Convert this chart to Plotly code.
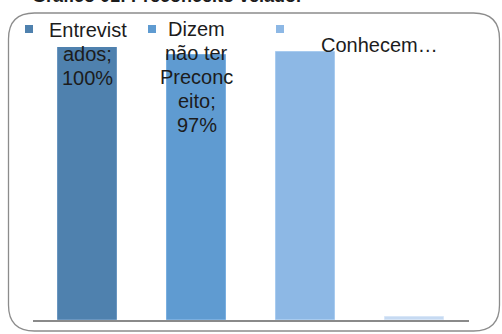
import plotly.graph_objects as go

# Series data
positions = [0, 1, 2, 3]
values = [100, 97, 98, 1]
bar_colors = ["#4f81ae", "#5f9bd1", "#8db8e5", "#c6daf2"]
edge_colors = ["#6a96c0", "#7aafe0", "#a8cbef", "#d8e6f7"]

# Data label lines (series name wrapped, then value)
label_lines = [
    ["Entrevist", "ados;"],
    ["Dizem", "não ter", "Preconc", "eito;"],
]
legend_names = ["", "", "Conhecem…"]
title_text = "Gráfico 01: Preconceito velado."

W, H = 502, 334
PLOT_L, PLOT_R, PLOT_T, PLOT_B = 33, 469, 47, 320
FONT = "Liberation Sans, Arial, sans-serif"
TEXT_COLOR = "#1c1c1c"
LINE_STEP = 24


def px_x(px):
    return (px - PLOT_L) / (PLOT_R - PLOT_L)


def px_y(py):
    return (PLOT_B - py) / (PLOT_B - PLOT_T)


fig = go.Figure()
fig.add_trace(go.Bar(
    x=positions,
    y=values,
    width=0.55,
    marker=dict(color=bar_colors, line=dict(color=edge_colors, width=1)),
    hoverinfo="skip",
    showlegend=False,
))

annotations = []

# Data labels on the first two bars, anchored at each bar's value;
# each wrapped line is placed separately for a tighter line step
label_shift = [-7, -22]
for i, lines in enumerate(label_lines):
    all_lines = lines + [f"{values[i]}%"]
    n = len(all_lines)
    for k, line in enumerate(all_lines):
        offset = (k - (n - 1) / 2) * LINE_STEP
        annotations.append(dict(
            x=positions[i], y=values[i], xref="x", yref="y",
            text=line, showarrow=False, align="center",
            yanchor="middle", yshift=label_shift[i] - offset,
            font=dict(family=FONT, size=20, color=TEXT_COLOR),
        ))

# Legend: coloured square markers and entry text
shapes = []
marker_px = [25, 148, 276]
for i, mx in enumerate(marker_px):
    shapes.append(dict(
        type="rect", xref="paper", yref="paper",
        x0=px_x(mx), x1=px_x(mx + 8), y0=px_y(33), y1=px_y(25),
        fillcolor=bar_colors[i], line=dict(width=0),
    ))
annotations.append(dict(
    x=px_x(379), y=px_y(45), xref="paper", yref="paper",
    text=legend_names[2], showarrow=False,
    xanchor="center", yanchor="middle",
    font=dict(family=FONT, size=20, color=TEXT_COLOR),
))

# Chart title, partly above the top edge of the page
annotations.append(dict(
    x=px_x(30), y=px_y(7.5), xref="paper", yref="paper",
    text=f"<b>{title_text}</b>", showarrow=False,
    xanchor="left", yanchor="bottom",
    font=dict(family=FONT, size=18, color=TEXT_COLOR),
))

# Rounded chart frame
r = 26
x0, x1, y0, y1 = 8.5, 499.5, 13, 331
path = (
    f"M {x0 + r},{y0} L {x1 - r},{y0} Q {x1},{y0} {x1},{y0 + r} "
    f"L {x1},{y1 - r} Q {x1},{y1} {x1 - r},{y1} "
    f"L {x0 + r},{y1} Q {x0},{y1} {x0},{y1 - r} "
    f"L {x0},{y0 + r} Q {x0},{y0} {x0 + r},{y0} Z"
)


def to_paper_path(p):
    out = []
    for tok in p.split(" "):
        if "," in tok:
            a, b = tok.split(",")
            out.append(f"{px_x(float(a)):.5f},{px_y(float(b)):.5f}")
        else:
            out.append(tok)
    return " ".join(out)


shapes.append(dict(
    type="path", xref="paper", yref="paper", path=to_paper_path(path),
    line=dict(color="#8c8c8c", width=1.3), fillcolor="rgba(0,0,0,0)",
    layer="below",
))

fig.update_layout(
    width=W, height=H,
    margin=dict(l=PLOT_L, r=W - PLOT_R, t=PLOT_T, b=H - PLOT_B, pad=0),
    paper_bgcolor="white", plot_bgcolor="white",
    xaxis=dict(
        range=[-0.5, 3.5], showticklabels=False, ticks="",
        showgrid=False, zeroline=False,
        showline=True, linecolor="#8a8a8a", linewidth=2,
        fixedrange=True,
    ),
    yaxis=dict(
        range=[0, 100], visible=False, showgrid=False, zeroline=False,
        fixedrange=True,
    ),
    annotations=annotations,
    shapes=shapes,
    showlegend=False,
    bargap=0,
)

fig.write_html("out.html", config={"displayModeBar": False})
